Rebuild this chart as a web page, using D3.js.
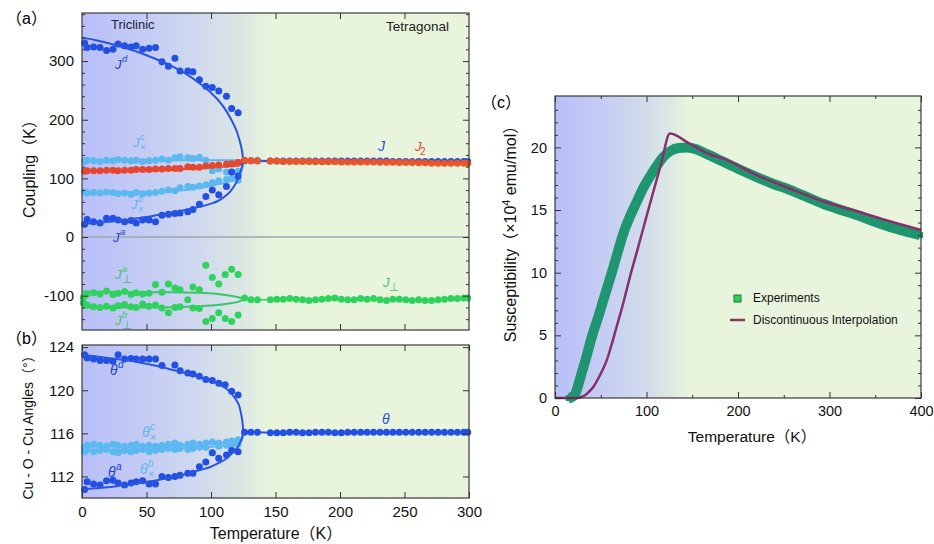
<!DOCTYPE html>
<html><head><meta charset="utf-8">
<script src="https://cdn.jsdelivr.net/npm/d3@7"></script>
<style>
body{margin:0;background:#fff;}
text{font-family:"Liberation Sans",Arial,"Noto Sans CJK SC",sans-serif;}
</style></head>
<body><svg id="c" width="934" height="544"></svg>
<script>
// ---------- DATA ----------
const tLow = [2,4,9,14,19,24,28,33,38,42,47,52,57];
const tMid = [62,67,72,76,82,86,91,96,101,106,112,116,121];
const tHigh = [126,131,136,146,151,156,161,166,171,176,181,186,191,196,201,206,211,216,221,226,231,236,241,246,251,256,261,266,271,276,281,286,291,296,299];

const jdLow = [331,323,324,323,318,320,329,326,324,326,320,322,323];
const jdMid = [299,291,305,283,283,282,268,257,255,249,240,219,212];
const jaLow = [22,30,26,24,32,32,29,26,28,24,29,29,26];
const jaMid = [37,39,40,41,43,47,56,69,80,72,86,111,104];
const jcLow = [129,131,130,129,131,130,132,131,130,131,129,130,131];
const jcMid = [133,131,135,137,135,134,136,131,113,116,111,111,112];
const jbLow = [77,75,76,75,77,76,74,75,73,76,74,75,76];
const jbMid = [78,80,79,84,86,85,87,89,93,96,98,100,97];
const j2Low = [112,113,113,113,114,114,113,114,114,115,115,115,116];
const j2Mid = [116,117,117,117,120,119,119,121,122,123,124,125,127];
const jHigh = [130,130,130,129.5,129.5,129.5,129.5,129.5,129.5,129.5,129.5,129.5,129.5,129.5,129.5,129.5,129.5,129.5,129.5,129.5,129.5,129.5,129,129,129,129,129,129,129,129,129,129,129,129,129];
const j2High = [131,130,130,129.5,129.5,129,129,129,129,129,128.5,128.5,128.5,128.5,128,128,128,128,128,128,127.5,127.5,127.5,127,127,127,126.5,126.5,126,126,126,126,126,126,126];
const perpHigh = [-104,-107,-107,-107,-106,-106,-105,-106,-107,-108,-107,-106,-105,-104,-106,-107,-107,-105,-106,-105,-107,-108,-106,-106,-107,-108,-107,-108,-108,-107,-106,-105,-105,-104,-104];
const perpAT = [1,4,9,14,19,24,28,33,38,42,47,52,57,62,67,72,76,86,91,96,101,106,111,116,121];
const perpAV = [-103,-97,-95,-97,-92,-98,-96,-93,-98,-95,-97,-96,-81,-94,-80,-87,-90,-85,-90,-48,-69,-80,-64,-55,-64];
const perpBT = [1,4,9,14,19,24,28,33,38,42,47,52,57,62,67,72,76,82,86,91,96,101,106,111,116,121];
const perpBV = [-112,-116,-119,-120,-118,-121,-117,-115,-119,-120,-114,-118,-116,-121,-129,-120,-119,-107,-121,-122,-144,-139,-129,-139,-144,-133];

// fitted curves
const cT = [0,10,20,30,40,50,60,70,80,90,100,105,110,115,118,120,122,123.5,124.5,125];
const jdCurve = [340,336,331,325,318,310,301,291,279,264,246,235,221,203,190,180,166,153,140,130];
const jaCurve = [22,24,26,28,31,34,38,42,46,51,57,61,68,78,87,95,106,116,124,130];
const lT = [0,30,60,90,105,115,120,123,124.5,125];
const jcLine = [131,131,131,131,131,131,131,131,131,130];
const jbLine = [75,76,77,83,90,95,100,108,120,130];
const j2Line = [112,113,114,117,119,120.5,121.5,123,126,130];
const perpALine = [-93,-93.5,-94,-95,-97,-100,-102,-104,-105.5,-106];
const perpBLine = [-120,-120,-120,-118,-116,-113,-111,-109,-107,-106];

// panel b
const thdLow = [123.3,123.0,122.9,122.75,122.75,122.7,123.3,122.9,122.95,122.9,122.9,122.9,122.9];
const thdMidT = [62,72,76,82,86,91,96,101,106,111,116,121];
const thdMid = [122.3,122.35,121.8,121.6,121.5,121.3,121.0,120.9,120.65,120.5,119.9,119.55];
const thaLow = [110.8,111.5,111.3,111.2,111.6,111.65,111.4,111.2,111.4,111.5,111.6,111.3,111.3];
const thaMid = [112.0,111.9,112.0,112.1,112.3,112.3,112.9,113.35,114.2,113.7,114.0,114.4,114.3];
const thcVals = [114.7,114.9,115.0,114.9,114.8,115.0,114.9,114.8,114.9,115.0,114.8,114.9,114.8,114.9,115.0,115.1,114.9,115.0,115.1,115.0,115.1,115.2,115.1,115.2,115.3,115.4];
const thbVals = [114.3,114.5,114.3,114.4,114.5,114.3,114.2,114.4,114.3,114.4,114.5,114.3,114.4,114.5,114.6,114.5,114.6,114.5,114.6,114.7,114.7,114.2,114.8,114.9,114.9,115.0];
const thHigh = [116.1,116.1,116.1,116.05,116.05,116.05,116.1,116.1,116.05,116.05,116.1,116.1,116.1,116.05,116.05,116.1,116.1,116.1,116.1,116.1,116.1,116.1,116.1,116.1,116.1,116.1,116.1,116.1,116.1,116.1,116.1,116.1,116.1,116.1,116.1];
const thdCurve = [123.3,123.15,123.0,122.85,122.7,122.45,122.2,121.9,121.6,121.25,120.9,120.6,120.3,119.8,119.35,119.0,118.5,117.7,116.9,116.1];
const thaCurve = [110.8,110.9,111.0,111.15,111.3,111.5,111.7,111.95,112.2,112.55,112.9,113.2,113.5,114.0,114.35,114.6,115.0,115.4,115.8,116.1];
const thcLine = [114.75,114.8,114.85,115.0,115.1,115.2,115.3,115.45,115.7,116.1];
const thbLine = [114.45,114.5,114.55,114.7,114.8,114.9,115.0,115.2,115.6,116.1];

// panel c
const expT = [15,18,22,26,30,34,38,42,47,52,57,62,68,75,82,89,96,104,111,118,126,135,144,152,165,184,200,220,238,257,275,293,311,330,348,366,383,399];
const expV = [0,0.05,0.3,1.2,2.2,3.2,4.3,5.3,6.4,7.6,8.8,10.0,11.5,13.2,14.5,15.6,16.7,17.7,18.5,19.2,19.7,19.95,20.0,19.9,19.5,18.85,18.3,17.65,17.1,16.6,16.05,15.5,15.05,14.6,14.1,13.65,13.3,13.0];
const intT = [0,25,30,35,42,49,56.5,62,67,74,82,90,100,108,116,125.5,147,169,184,220,257,293,330,366,400];
const intV = [0,0,0.1,0.35,0.9,1.8,3.0,4.3,5.6,7.4,9.7,11.8,14.5,16.6,18.7,21.1,20.3,19.45,19.1,17.8,16.7,15.7,14.9,14.1,13.4];

const ticksA = [-100,0,100,200,300];
const ticksB = [112,116,120,124];
const ticksX = [0,50,100,150,200,250,300];
const ticksC = [0,5,10,15,20];
const ticksXC = [0,100,200,300,400];

// ---------- COLORS ----------
const DB = "#2150e2", LB = "#5cb8f0", RD = "#e4472f", GR = "#2fd25c", GRL = "#3cc46c";

const svg = d3.select("#c");
const defs = svg.append("defs");

function gradient(id, xs) {
  const g = defs.append("linearGradient").attr("id", id)
    .attr("gradientUnits", "userSpaceOnUse")
    .attr("x1", xs(0)).attr("x2", xs(150)).attr("y1", 0).attr("y2", 0);
  [[0,"#b8bff9"],[0.4,"#c7cff3"],[0.67,"#d3ddec"],[0.85,"#dde9e2"],[0.98,"#e8f5dc"],[1,"#e8f5dc"]]
    .forEach(s => g.append("stop").attr("offset", s[0]).attr("stop-color", s[1]));
}

const xA = d3.scaleLinear([0,300],[82,469]);
const yA = d3.scaleLinear([-158.5,382],[330,13]);
const yB = d3.scaleLinear([110,124.2],[498,345]);
const xC = d3.scaleLinear([0,400],[555,921]);
const yC = d3.scaleLinear([0,24.1],[398,96]);
gradient("gA", xA); gradient("gC", xC);

function frame(x, y, grad) {
  const [x0,x1] = x.range(), [y1,y0] = y.range();
  svg.append("rect").attr("x",x0).attr("y",y0).attr("width",x1-x0).attr("height",y1-y0)
    .attr("fill",`url(#${grad})`);
}
function border(x, y) {
  const [x0,x1] = x.range(), [y1,y0] = y.range();
  svg.append("rect").attr("x",x0).attr("y",y0).attr("width",x1-x0).attr("height",y1-y0)
    .attr("fill","none").attr("stroke","#3a3a3a").attr("stroke-width",1.2);
}
function axisStyle(g, showText, fs) {
  g.select(".domain").remove();
  g.selectAll(".tick line").attr("stroke","#333").attr("stroke-width",1);
  g.selectAll(".tick text").attr("fill","#111").style("font-size",(fs||15)+"px")
    .style("font-family","'Liberation Sans',Arial,sans-serif");
  if (!showText) g.selectAll(".tick text").remove();
}
function ticksAll(x, y, xt, yt, xMinor, yMinor, showBottom, showLeft, fs) {
  const [x0,x1] = x.range(), [y1,y0] = y.range();
  const fmt = d => String(d);
  if (yMinor) {
    [x0, x1].forEach((xx, i) => {
      const g = svg.append("g").attr("transform",`translate(${xx},0)`);
      const ax = (i===0? d3.axisLeft(y).tickSize(-3) : d3.axisRight(y).tickSize(-3)).tickValues(yMinor).tickFormat("");
      g.call(ax); axisStyle(g,false);
    });
  }
  if (xMinor) {
    [y0, y1].forEach((yy, i) => {
      const g = svg.append("g").attr("transform",`translate(0,${yy})`);
      const ax = (i===0? d3.axisTop(x).tickSize(-3) : d3.axisBottom(x).tickSize(-3)).tickValues(xMinor).tickFormat("");
      g.call(ax); axisStyle(g,false);
    });
  }
  let g = svg.append("g").attr("transform",`translate(${x0},0)`);
  g.call(d3.axisLeft(y).tickValues(yt).tickSize(-6).tickPadding(showLeft?8:0).tickFormat(fmt)); axisStyle(g, showLeft, fs);
  g = svg.append("g").attr("transform",`translate(${x1},0)`);
  g.call(d3.axisRight(y).tickValues(yt).tickSize(-6).tickFormat(fmt)); axisStyle(g, false);
  g = svg.append("g").attr("transform",`translate(0,${y0})`);
  g.call(d3.axisTop(x).tickValues(xt).tickSize(-6).tickFormat(fmt)); axisStyle(g, false);
  g = svg.append("g").attr("transform",`translate(0,${y1})`);
  g.call(d3.axisBottom(x).tickValues(xt).tickSize(-6).tickPadding(showBottom?8:0).tickFormat(fmt)); axisStyle(g, showBottom, fs);
}
function line(x, y, T, V, color, w, curve) {
  svg.append("path").datum(T.map((t,i)=>[t,V[i]]))
    .attr("d", d3.line().x(d=>x(d[0])).y(d=>y(d[1])).curve(curve||d3.curveLinear))
    .attr("fill","none").attr("stroke",color).attr("stroke-width",w).attr("stroke-linejoin","round");
}
function dots(x, y, T, V, color, r) {
  svg.append("g").selectAll("circle").data(T.map((t,i)=>[t,V[i]])).join("circle")
    .attr("cx",d=>x(d[0])).attr("cy",d=>y(d[1])).attr("r",r||3.5).attr("fill",color);
}
function sym(x, y, base, sup, sub, color, size, off) {
  svg.append("text").attr("x",x).attr("y",y).attr("fill",color)
    .style("font-size",size+"px").style("font-style","italic").text(base);
  if (sup) svg.append("text").attr("x",x+off).attr("y",y-7).attr("fill",color)
    .style("font-size",(size*0.72)+"px").style("font-style","italic").text(sup);
  if (sub) svg.append("text").attr("x",x+off-(sub==="2"?1:0)).attr("y",y+4).attr("fill",color)
    .style("font-size",(size*0.78)+"px").text(sub);
}

// ---------- PANEL A ----------
frame(xA, yA, "gA");
svg.append("line").attr("x1",xA(0)).attr("x2",xA(300)).attr("y1",yA(0)).attr("y2",yA(0))
  .attr("stroke","#9ea6ae").attr("stroke-width",1.5);
line(xA, yA, lT, jcLine, LB, 2);
line(xA, yA, lT, jbLine, LB, 2, d3.curveMonotoneX);
line(xA, yA, lT, j2Line, RD, 2, d3.curveMonotoneX);
line(xA, yA, lT, perpALine, GRL, 2, d3.curveMonotoneX);
line(xA, yA, lT, perpBLine, GRL, 2, d3.curveMonotoneX);
line(xA, yA, [125].concat(tHigh), [130].concat(jHigh), "#2a55e0", 2.2);
line(xA, yA, [125].concat(tHigh), [-106].concat(perpHigh), GRL, 1.5);
dots(xA, yA, tLow.concat(tMid), jcLow.concat(jcMid), LB);
dots(xA, yA, tLow.concat(tMid), jbLow.concat(jbMid), LB);
dots(xA, yA, tLow.concat(tMid), j2Low.concat(j2Mid), RD);
dots(xA, yA, tLow.concat(tMid), jdLow.concat(jdMid), DB);
dots(xA, yA, tLow.concat(tMid), jaLow.concat(jaMid), DB);
dots(xA, yA, perpAT, perpAV, GR);
dots(xA, yA, perpBT, perpBV, GR);
line(xA, yA, cT, jdCurve, "#2a55e0", 2, d3.curveMonotoneX);
line(xA, yA, cT, jaCurve, "#2a55e0", 2, d3.curveMonotoneX);
dots(xA, yA, tHigh, jHigh, DB);
dots(xA, yA, tHigh, j2High, "#ec5528");
dots(xA, yA, tHigh, perpHigh, GR);
border(xA, yA);
const minorA = d3.range(-140, 381, 20).filter(v => v % 100 !== 0);
ticksAll(xA, yA, [50,100,150,200,250], ticksA, null, minorA, false, true, 15);

svg.append("text").attr("x",111).attr("y",29).attr("fill","#1d2240").style("font-size","13px").text("Triclinic");
svg.append("text").attr("x",386).attr("y",31).attr("fill","#222").style("font-size","13.5px").text("Tetragonal");
sym(115, 69, "J", "d", null, "#2140d8", 13, 7);
sym(133, 147, "J", "c", "×", LB, 13, 7);
sym(131, 209, "J", "b", "×", LB, 13, 7);
sym(113, 242, "J", "a", null, "#2140d8", 13, 7);
sym(378, 151, "J", null, null, "#2a4ee0", 14, 7);
sym(415, 151, "J", null, "2", RD, 13, 6);
sym(115, 279, "J", "a", "⊥", GRL, 13, 7);
sym(115, 325, "J", "b", "⊥", GRL, 13, 7);
sym(383, 287, "J", null, "⊥", GRL, 13, 6);

// ---------- PANEL B ----------
frame(xA, yB, "gA");
const tAll = tLow.concat(tMid);
line(xA, yB, lT, thcLine, LB, 2, d3.curveMonotoneX);
line(xA, yB, lT, thbLine, LB, 2, d3.curveMonotoneX);
line(xA, yB, [125].concat(tHigh), [116.1].concat(thHigh), "#2a55e0", 2);
dots(xA, yB, tAll, thcVals, LB);
dots(xA, yB, tAll, thbVals, LB);
dots(xA, yB, tLow.concat(thdMidT), thdLow.concat(thdMid), DB);
dots(xA, yB, tAll, thaLow.concat(thaMid), DB);
line(xA, yB, cT, thdCurve, "#2a55e0", 2, d3.curveMonotoneX);
line(xA, yB, cT, thaCurve, "#2a55e0", 2, d3.curveMonotoneX);
dots(xA, yB, tHigh, thHigh, DB);
border(xA, yB);
ticksAll(xA, yB, ticksX, ticksB, null, null, true, true, 15);
sym(110, 375, "θ", "d", null, "#2140d8", 14, 8);
sym(142, 437, "θ", "c", "×", LB, 14, 8);
sym(108, 477, "θ", "a", null, "#2140d8", 14, 8);
sym(140, 474, "θ", "b", "×", LB, 14, 8);
sym(382, 424, "θ", null, null, "#2a4ee0", 14, 8);

// ---------- PANEL C ----------
frame(xC, yC, "gC");
line(xC, yC, expT, expV, "#1f9570", 10, d3.curveMonotoneX);
svg.append("g").selectAll("rect").data(expT.map((t,i)=>[t,expV[i]])).join("rect")
  .attr("x",d=>xC(d[0])-3).attr("y",d=>yC(d[1])-3).attr("width",6).attr("height",6)
  .attr("fill","#1f9570");
line(xC, yC, intT, intV, "#86306a", 2.5, d3.curveMonotoneX);
border(xC, yC);
ticksAll(xC, yC, ticksXC, ticksC, [50,150,250,350], d3.range(1,24,1).filter(v=>v%5!==0), true, true, 14.5);
svg.append("rect").attr("x",734).attr("y",295).attr("width",7).attr("height",7)
  .attr("fill","#33d24e").attr("stroke","#167a3c").attr("stroke-width",1);
svg.append("text").attr("x",753).attr("y",302).style("font-size","12px").attr("fill","#111").text("Experiments");
svg.append("line").attr("x1",730).attr("x2",745).attr("y1",320).attr("y2",320)
  .attr("stroke","#8a3a5e").attr("stroke-width",2.5);
svg.append("text").attr("x",753).attr("y",324).style("font-size","12px").attr("fill","#111").text("Discontinuous Interpolation");

// ---------- TITLES ----------
svg.append("text").attr("x",6).attr("y",24).style("font-size","16px").text("（a）");
svg.append("text").attr("x",6).attr("y",344).style("font-size","16px").text("（b）");
svg.append("text").attr("x",481).attr("y",108).style("font-size","16px").text("（c）");
svg.append("text").attr("transform","translate(35,165) rotate(-90)").attr("text-anchor","middle")
  .style("font-size","16px").attr("fill","#111").text("Coupling（K）");
svg.append("text").attr("transform","translate(33,424) rotate(-90)").attr("text-anchor","middle")
  .style("font-size","14px").attr("fill","#111").text("Cu - O - Cu  Angles（°）");
svg.append("text").attr("x",276).attr("y",539).attr("text-anchor","middle")
  .style("font-size","16px").attr("fill","#111").text("Temperature（K）");
svg.append("text").attr("x",752).attr("y",442).attr("text-anchor","middle")
  .style("font-size","15.5px").attr("fill","#111").text("Temperature（K）");
const yl = svg.append("text").attr("transform","translate(516,230) rotate(-90)").attr("text-anchor","middle")
  .style("font-size","16px").attr("fill","#111");
yl.append("tspan").text("Susceptibility（×10");
yl.append("tspan").attr("dy",-6).style("font-size","11px").text("4");
yl.append("tspan").attr("dy",6).text(" emu/mol）");
</script></body></html>
